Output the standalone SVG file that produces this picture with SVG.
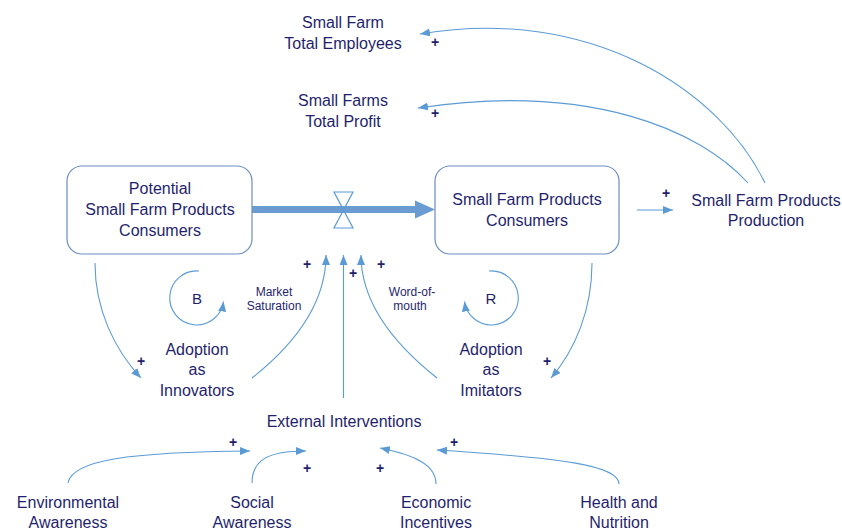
<svg xmlns="http://www.w3.org/2000/svg" width="842" height="530" viewBox="0 0 842 530">
  <defs>
    <marker id="arrow" markerUnits="userSpaceOnUse" viewBox="0 0 10 8" markerWidth="10" markerHeight="8" refX="10" refY="4" orient="auto">
      <path d="M0,0 L10,4 L0,8 Z" fill="#5B9BD5"/>
    </marker>
    <style>
      text { font-family: "Liberation Sans", Arial, sans-serif; fill: #1F1F6E; text-anchor: middle; }
      .lbl { font-size: 16px; }
      .small { font-size: 12px; }
      .loop { font-size: 15px; }
      .pol { font-size: 14px; font-weight: bold; }
      .stock { fill: #FFFFFF; stroke: #6C8EBF; stroke-width: 1.2; }
      .link { fill: none; stroke: #5B9BD5; stroke-width: 1.1; marker-end: url(#arrow); }
      .loopArc { fill: none; stroke: #5B9BD5; stroke-width: 1.1; marker-end: url(#arrow); }
    </style>
  </defs>

  <rect width="842" height="530" fill="#FFFFFF"/>

  <!-- Flow pipe between the two stocks -->
  <g id="flow">
    <rect x="251" y="206" width="166" height="7" fill="#6A9BD1"/>
    <polygon points="415,200.5 435,209.5 415,218.5" fill="#6A9BD1"/>
    <path d="M334,192 H353 L334,228 H353 Z" fill="none" stroke="#5B9BD5" stroke-width="1.2"/>
  </g>

  <!-- Stocks -->
  <g id="potential-consumers">
    <rect class="stock" x="67" y="166" width="185" height="88" rx="15"/>
    <text class="lbl" x="160" y="194">Potential</text>
    <text class="lbl" x="160" y="215">Small Farm Products</text>
    <text class="lbl" x="160" y="236">Consumers</text>
  </g>
  <g id="consumers">
    <rect class="stock" x="435" y="166" width="184" height="88" rx="15"/>
    <text class="lbl" x="527" y="205">Small Farm Products</text>
    <text class="lbl" x="527" y="226">Consumers</text>
  </g>

  <!-- Auxiliary variables -->
  <g id="total-employees">
    <text class="lbl" x="343" y="28">Small Farm</text>
    <text class="lbl" x="343" y="49">Total Employees</text>
  </g>
  <g id="total-profit">
    <text class="lbl" x="343" y="106">Small Farms</text>
    <text class="lbl" x="343" y="127">Total Profit</text>
  </g>
  <g id="production">
    <text class="lbl" x="766" y="206">Small Farm Products</text>
    <text class="lbl" x="766" y="226">Production</text>
  </g>
  <g id="innovators">
    <text class="lbl" x="197" y="355">Adoption</text>
    <text class="lbl" x="197" y="375">as</text>
    <text class="lbl" x="197" y="396">Innovators</text>
  </g>
  <g id="imitators">
    <text class="lbl" x="491" y="355">Adoption</text>
    <text class="lbl" x="491" y="375">as</text>
    <text class="lbl" x="491" y="396">Imitators</text>
  </g>
  <g id="external-interventions">
    <text class="lbl" x="344" y="427">External Interventions</text>
  </g>
  <g id="environmental-awareness">
    <text class="lbl" x="68" y="508">Environmental</text>
    <text class="lbl" x="68" y="528">Awareness</text>
  </g>
  <g id="social-awareness">
    <text class="lbl" x="252" y="508">Social</text>
    <text class="lbl" x="252" y="528">Awareness</text>
  </g>
  <g id="economic-incentives">
    <text class="lbl" x="436" y="508">Economic</text>
    <text class="lbl" x="436" y="528">Incentives</text>
  </g>
  <g id="health-nutrition">
    <text class="lbl" x="619" y="508">Health and</text>
    <text class="lbl" x="619" y="528">Nutrition</text>
  </g>

  <!-- Feedback loops -->
  <g id="loop-b">
    <path class="loopArc" d="M199,271 A27,27 0 1 0 223.5,301.5"/>
    <text class="loop" x="197" y="304">B</text>
    <text class="small" x="274" y="296">Market</text>
    <text class="small" x="274" y="310">Saturation</text>
  </g>
  <g id="loop-r">
    <path class="loopArc" d="M489,271 A27,27 0 1 1 464.5,301.5"/>
    <text class="loop" x="491" y="304">R</text>
    <text class="small" x="412" y="296">Word-of-</text>
    <text class="small" x="410" y="310">mouth</text>
  </g>

  <!-- Causal links -->
  <g id="connectors">
    <path class="link" d="M765,183 C720,90 590,5 420,34"/>
    <path class="link" d="M748,183 C700,130 590,82 418,108"/>
    <path class="link" d="M637,210 L673,210"/>
    <path class="link" d="M95,263 C95,310 115,350 141,378"/>
    <path class="link" d="M592,263 C592,310 575,350 551,378"/>
    <path class="link" d="M252,378 C300,340 326,300 326,255"/>
    <path class="link" d="M437,378 C389,340 361,300 361,255"/>
    <path class="link" d="M343.5,398 L343.5,255"/>
    <path class="link" d="M68,483 C72,460 130,452 250,451"/>
    <path class="link" d="M252,483 C252,460 268,451 306,451"/>
    <path class="link" d="M436,484 C436,465 415,455 380,448"/>
    <path class="link" d="M619,484 C619,465 560,458 437,450"/>
  </g>

  <!-- Link polarities -->
  <g id="polarities">
    <text class="pol" x="435" y="47">+</text>
    <text class="pol" x="435" y="118">+</text>
    <text class="pol" x="666" y="198">+</text>
    <text class="pol" x="141" y="366">+</text>
    <text class="pol" x="547" y="366">+</text>
    <text class="pol" x="307" y="269">+</text>
    <text class="pol" x="353" y="278">+</text>
    <text class="pol" x="381" y="269">+</text>
    <text class="pol" x="233" y="447">+</text>
    <text class="pol" x="307" y="473">+</text>
    <text class="pol" x="380" y="473">+</text>
    <text class="pol" x="454" y="447">+</text>
  </g>
</svg>
